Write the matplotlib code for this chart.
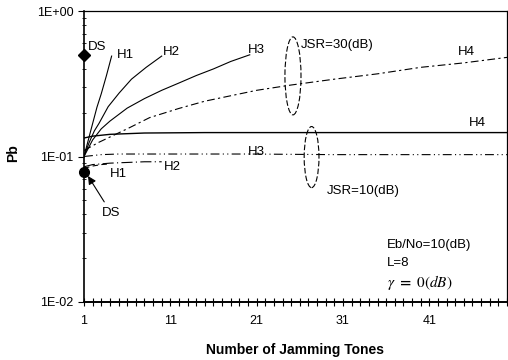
import matplotlib
matplotlib.use("Agg")
import matplotlib.pyplot as plt
from matplotlib.patches import Ellipse
from matplotlib.ticker import FixedLocator, FixedFormatter, LogLocator, NullFormatter

plt.rcParams['font.family'] = ['Liberation Sans', 'DejaVu Sans']
plt.rcParams['mathtext.fontset'] = 'stix'

# ---- data ----
# JSR = 30 dB group
h1_30_x = [1, 1.8, 2.5, 3, 3.6, 4.2]
h1_30_y = [0.10, 0.152, 0.218, 0.27, 0.36, 0.49]
h2_30_x = [1, 1.6, 2.2, 2.74, 3.8, 5.07, 6.5, 8.2, 10.0]
h2_30_y = [0.10, 0.125, 0.15, 0.169, 0.22, 0.273, 0.34, 0.41, 0.49]
h3_30_x = [1, 2, 3, 4, 6, 8, 10, 12, 14, 16, 18, 20.2]
h3_30_y = [0.10, 0.13, 0.155, 0.175, 0.215, 0.25, 0.285, 0.32, 0.36, 0.40, 0.45, 0.50]
h4_30_x = [1, 2.7, 6.2, 8.6, 12, 15, 21, 25, 30, 35, 40, 45, 50]
h4_30_y = [0.11, 0.125, 0.157, 0.185, 0.214, 0.24, 0.285, 0.31, 0.34, 0.37, 0.41, 0.44, 0.48]
ds_30_x = [1]
ds_30_y = [0.5]

# JSR = 10 dB group
h1_10_x = [1, 2, 3, 4]
h1_10_y = [0.083, 0.086, 0.088, 0.089]
h2_10_x = [1, 2, 4, 6, 8, 10]
h2_10_y = [0.085, 0.088, 0.090, 0.091, 0.092, 0.092]
h3_10_x = [1, 3, 5, 10, 20, 30, 40, 50]
h3_10_y = [0.100, 0.103, 0.104, 0.104, 0.104, 0.103, 0.103, 0.103]
h4_10_x = [1, 2, 4, 8, 15, 25, 35, 50]
h4_10_y = [0.134, 0.138, 0.142, 0.145, 0.146, 0.146, 0.146, 0.146]
ds_10_x = [1]
ds_10_y = [0.078]

x_ticks = [1, 11, 21, 31, 41]
y_ticks = [0.01, 0.1, 1.0]
y_tick_labels = ['1E-02', '1E-01', '1E+00']

# ---- figure ----
W, H = 508, 360
fig = plt.figure(figsize=(W / 100, H / 100), dpi=100)
ax = fig.add_axes([84 / W, (H - 302) / H, (507 - 84) / W, (302 - 11) / H])
ax.set_yscale('log')
ax.set_xlim(1, 50)
ax.set_ylim(0.01, 1.0)

lw = 0.8
k = 'black'
ax.plot(h1_30_x, h1_30_y, color=k, lw=lw)
ax.plot(h2_30_x, h2_30_y, color=k, lw=lw)
ax.plot(h3_30_x, h3_30_y, color=k, lw=lw)
ax.plot(h4_30_x, h4_30_y, color=k, lw=lw, dashes=(7, 3, 2, 3))
ax.plot(ds_30_x, ds_30_y, 'D', color=k, ms=6, clip_on=False)

ax.plot(h1_10_x, h1_10_y, color=k, lw=lw, dashes=(5, 3))
ax.plot(h2_10_x, h2_10_y, color=k, lw=lw, dashes=(10, 3, 1, 3))
ax.plot(h3_10_x, h3_10_y, color=k, lw=lw, dashes=(8, 3, 1, 3, 1, 3))
ax.plot(h4_10_x, h4_10_y, color=k, lw=1.0)
ax.plot(ds_10_x, ds_10_y, 'o', color=k, ms=7, clip_on=False)

# ellipses (axes fraction)
ax.add_patch(Ellipse((0.494, 0.777), 0.038, 0.268, transform=ax.transAxes,
                     fill=False, ec=k, lw=0.8, ls=(0, (5, 2))))
ax.add_patch(Ellipse((0.538, 0.498), 0.035, 0.21, transform=ax.transAxes,
                     fill=False, ec=k, lw=0.8, ls=(0, (5, 2))))

# ticks
ax.xaxis.set_major_locator(FixedLocator(x_ticks))
ax.xaxis.set_minor_locator(FixedLocator(list(range(1, 51))))
ax.xaxis.set_major_formatter(FixedFormatter([str(v) for v in x_ticks]))
ax.yaxis.set_major_locator(FixedLocator(y_ticks))
ax.yaxis.set_major_formatter(FixedFormatter(y_tick_labels))
ax.yaxis.set_minor_locator(LogLocator(base=10, subs=range(2, 10)))
ax.yaxis.set_minor_formatter(NullFormatter())
ax.tick_params(axis='x', which='both', direction='inout', length=6, width=0.8, labelsize=9, pad=6)
ax.tick_params(axis='y', which='major', direction='out', length=4, width=0.8, labelsize=9)
ax.tick_params(axis='y', which='minor', direction='inout', length=3, width=0.6)
for s in ax.spines.values():
    s.set_linewidth(0.9)
ax.spines['bottom'].set_linewidth(1.4)
ax.spines['left'].set_linewidth(1.2)

ax.set_xlabel('Number of Jamming Tones', fontsize=10, fontweight='bold', labelpad=12)


# labels in pixel coordinates -> figure fraction
def ftxt(px, py, s, **kw):
    fig.text(px / W, 1 - py / H, s, **kw)


ftxt(13, 153, 'Pb', fontsize=10, fontweight='bold', rotation=90, ha='center', va='center')

fs = 9.5
ftxt(88, 47, 'DS', fontsize=fs, va='center')
ftxt(117, 55, 'H1', fontsize=fs, va='center')
ftxt(163, 52, 'H2', fontsize=fs, va='center')
ftxt(248, 50, 'H3', fontsize=fs, va='center')
ftxt(458, 52, 'H4', fontsize=fs, va='center')
ftxt(301, 45, 'JSR=30(dB)', fontsize=fs, va='center')
ftxt(469, 123, 'H4', fontsize=fs, va='center')
ftxt(248, 152, 'H3', fontsize=fs, va='center')
ftxt(164, 167, 'H2', fontsize=fs, va='center')
ftxt(110, 174, 'H1', fontsize=fs, va='center')
ftxt(327, 191, 'JSR=10(dB)', fontsize=fs, va='center')
ftxt(387, 245, 'Eb/No=10(dB)', fontsize=fs, va='center')
ftxt(387, 263, 'L=8', fontsize=fs, va='center')
ftxt(387, 283, r'$\gamma\ \mathbf{=}\ 0(dB)$', fontsize=11, va='center')

# lower DS with arrow
ax.annotate('DS', xy=(88 / W, 1 - 176 / H), xycoords='figure fraction',
            xytext=(102 / W, 1 - 213 / H), textcoords='figure fraction',
            fontsize=fs, va='center', ha='left',
            arrowprops=dict(arrowstyle='-|>', color=k, lw=0.8, mutation_scale=12,
                            shrinkA=2, shrinkB=0))

fig.savefig('out.png', dpi=100)
